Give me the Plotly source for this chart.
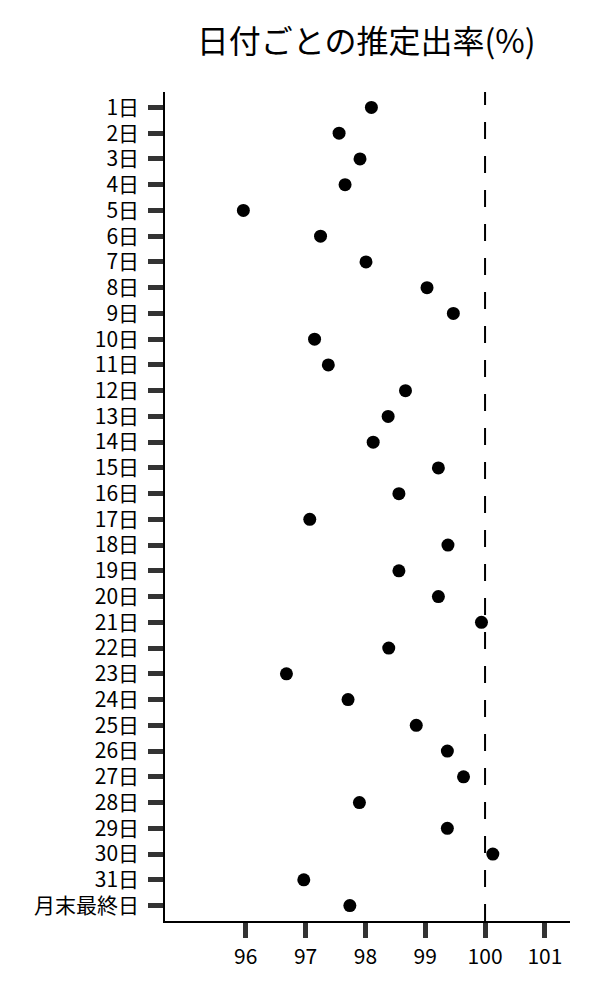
import plotly.graph_objects as go

# categorias (dias del mes) y valores estimados
dias = [f"{i}日" for i in range(1, 32)] + ["月末最終日"]
tasa = [98.10, 97.56, 97.91, 97.66, 95.96, 97.25, 98.01, 99.03, 99.47, 97.15,
        97.38, 98.67, 98.38, 98.13, 99.22, 98.56, 97.07, 99.38, 98.56, 99.22,
        99.94, 98.39, 96.68, 97.71, 98.85, 99.37, 99.64, 97.90, 99.37, 100.13,
        96.97, 97.74]
x_ticks = [96, 97, 98, 99, 100, 101]
referencia = 100

fuente = "Noto Sans CJK JP"

fig = go.Figure()
fig.add_trace(go.Scatter(x=tasa, y=dias, mode="markers",
                         marker=dict(color="black", size=13),
                         showlegend=False))

# linea discontinua en 100%
fig.add_vline(x=referencia, line=dict(color="black", width=2, dash="17px,17px"))

fig.update_layout(
    width=600, height=1000,
    margin=dict(l=157, r=38, t=84, b=87),
    plot_bgcolor="white", paper_bgcolor="white",
    font=dict(family=fuente, size=21, color="black"),
    title=dict(text="日付ごとの推定出率(%)", x=0.597, xanchor="center",
               y=0.966, yanchor="middle", yref="container",
               font=dict(family=fuente, size=32, color="black")),
)
fig.update_xaxes(range=[94.65, 101.42], tickvals=x_ticks, showgrid=False,
                 zeroline=False, showline=True, linecolor="black", linewidth=1.5,
                 ticks="outside", ticklen=15, tickwidth=5, tickcolor="#333",
                 ticklabelstandoff=1)
fig.update_yaxes(categoryorder="array", categoryarray=dias,
                 range=[31.6, -0.6], showgrid=False, zeroline=False,
                 showline=True, linecolor="black", linewidth=1.5,
                 ticks="outside", ticklen=15, tickwidth=5, tickcolor="#333",
                 ticklabelstandoff=5)

fig.write_html("out.html")
